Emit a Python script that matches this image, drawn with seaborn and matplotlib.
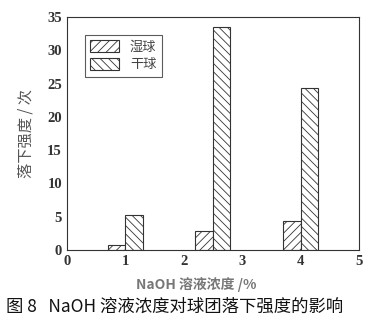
import matplotlib
matplotlib.use("Agg")
import matplotlib.pyplot as plt
import seaborn as sns
import pandas as pd

concentration = [1, 2.5, 4]
wet_drop = [0.8, 2.8, 4.4]
dry_drop = [5.3, 33.5, 24.4]
series_names = ["湿球", "干球"]
x_ticks = [0, 1, 2, 3, 4, 5]
y_ticks = [0, 5, 10, 15, 20, 25, 30, 35]

df = pd.DataFrame({
    "conc": concentration * 2,
    "value": wet_drop + dry_drop,
    "kind": [series_names[0]] * 3 + [series_names[1]] * 3,
})

sns.set_style("white")
plt.rcParams['font.family'] = ['Noto Sans CJK SC', 'DejaVu Sans']
plt.rcParams['hatch.linewidth'] = 0.6
plt.rcParams['hatch.color'] = '#333333'

fig = plt.figure(figsize=(3.84, 3.26), dpi=100)
ax = fig.add_axes([0.174, 0.233, 0.761, 0.715])

sns.barplot(data=df, x="conc", y="value", hue="kind", native_scale=True,
            width=0.4, fill=False, color="#333333", linewidth=0.8,
            errorbar=None, ax=ax, legend=False)

hatches = ["////", "\\\\\\\\"]
for cont, h in zip(ax.containers, hatches):
    for p in cont:
        p.set_hatch(h)
        p.set_edgecolor("#333333")
        p.set_facecolor("white")
        p.set_fill(True)

from matplotlib.patches import Patch
handles = [Patch(facecolor="white", edgecolor="#333333", hatch=h, linewidth=0.8) for h in hatches]
leg = ax.legend(handles, series_names, loc="upper left", bbox_to_anchor=(0.04, 0.95),
                frameon=True, fancybox=False, edgecolor="#333333", fontsize=9.5,
                handlelength=2.2, handleheight=1.0, borderpad=0.4, labelspacing=0.3)
leg.get_frame().set_linewidth(0.8)
for t in leg.get_texts():
    t.set_color("#444444")

ax.set_xlim(0, 5)
ax.set_ylim(0, 35)
ax.set_xticks(x_ticks)
ax.set_yticks(y_ticks)
ax.set_xticklabels([str(v) for v in x_ticks], fontfamily="Liberation Serif", fontweight="bold", fontsize=10.5, color="#333333")
ax.set_yticklabels([str(v) for v in y_ticks], fontfamily="Liberation Serif", fontweight="bold", fontsize=10.5, color="#333333")
ax.tick_params(direction="in", length=3, width=0.8, colors="#333333", labelcolor="#333333")
for s in ax.spines.values():
    s.set_linewidth(0.8)
    s.set_color("#333333")

ax.set_xlabel("")
ax.set_ylabel("落下强度 / 次", fontsize=11, color="#555555", labelpad=9)
fig.text(0.51, 0.128, "NaOH 溶液浓度 /%", ha="center", va="center", fontsize=10,
         color="#777777", fontweight="bold")
fig.text(0.015, 0.058, "图 8   NaOH 溶液浓度对球团落下强度的影响", ha="left", va="center",
         fontsize=12.5, color="#111111")

fig.savefig("out.png", dpi=100)
